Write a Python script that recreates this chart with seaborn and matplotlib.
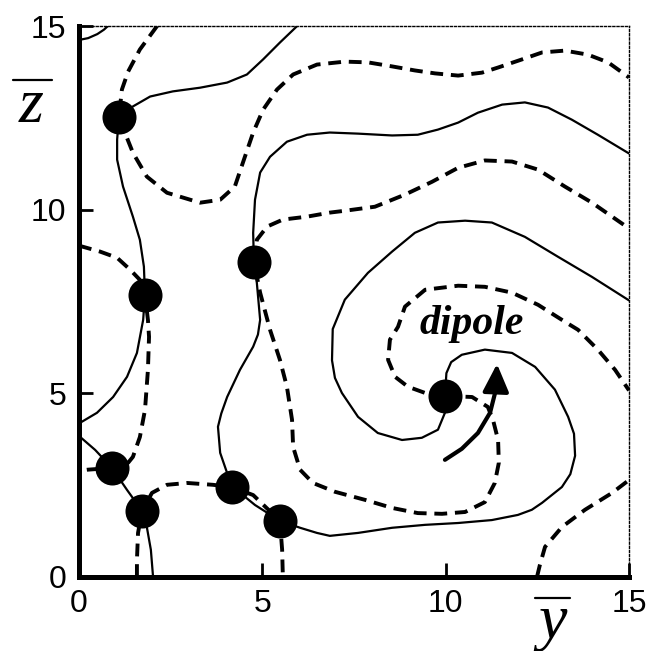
import matplotlib
matplotlib.use("Agg")
import matplotlib.pyplot as plt
from matplotlib.lines import Line2D
import seaborn as sns

# ---- zero-contour curves in the (y, z) plane ----
# solid curves
s_corner_y = [0.0, 0.25, 0.50, 0.68, 0.79]
s_corner_z = [14.62, 14.67, 14.78, 14.90, 15.0]

s_top_y = [1.09, 1.47, 1.94, 2.56, 3.30, 4.04, 4.58, 5.02, 5.48, 5.94]
s_top_z = [12.53, 12.81, 13.08, 13.22, 13.32, 13.46, 13.68, 14.09, 14.55, 14.99]

s_left_y = [1.09, 1.04, 1.04, 1.20, 1.47, 1.66, 1.77, 1.80, 1.75, 1.58, 1.31, 0.93, 0.49, 0.0]
s_left_z = [12.53, 11.91, 11.36, 10.63, 9.81, 9.18, 8.45, 7.68, 7.00, 6.10, 5.45, 4.90, 4.47, 4.18]

s_low_y = [0.0, 0.44, 0.90, 1.31, 1.72, 1.85, 1.96, 2.02]
s_low_z = [3.84, 3.46, 2.97, 2.37, 1.80, 1.36, 0.74, 0.0]

s_upper_y = [4.77, 4.75, 4.80, 4.94, 5.21, 5.67, 6.22, 6.84, 7.61, 8.54, 9.24, 9.79,
             10.34, 10.88, 11.54, 12.16, 12.79, 13.44, 14.15, 15.0]
s_upper_z = [8.58, 9.37, 10.27, 11.01, 11.44, 11.85, 12.04, 12.10, 12.07, 12.02, 12.04, 12.18,
             12.37, 12.64, 12.86, 12.92, 12.78, 12.45, 12.04, 11.53]

s_curl_y = [4.77, 4.85, 4.94, 4.88, 4.75, 4.39, 4.04, 3.88, 3.79, 3.85, 4.04, 4.20, 4.80, 5.48,
            6.03, 6.49, 6.84, 7.61, 8.54, 9.44, 10.34, 11.26, 11.97, 12.35, 12.63, 13.17, 13.40,
            13.53, 13.50, 13.34, 12.98, 12.44, 11.81, 11.07, 10.44, 10.15, 10.02, 9.98]
s_curl_z = [8.58, 8.01, 7.00, 6.60, 6.27, 5.64, 4.90, 4.45, 4.09, 3.38, 2.83, 2.45, 1.96, 1.53,
            1.34, 1.20, 1.12, 1.20, 1.34, 1.42, 1.47, 1.55, 1.69, 1.83, 2.02, 2.45, 2.80,
            3.30, 3.90, 4.36, 5.10, 5.72, 6.10, 6.19, 6.05, 5.85, 5.55, 4.93]

s_spiral_y = [9.98, 9.98, 9.79, 9.35, 8.81, 8.15, 7.61, 7.17, 6.98, 6.90, 6.92, 7.25, 7.88, 8.54,
              9.16, 9.79, 10.53, 11.26, 12.16, 13.06, 13.99, 15.0]
s_spiral_z = [4.93, 4.47, 4.01, 3.79, 3.73, 3.92, 4.36, 5.01, 5.42, 5.90, 6.75, 7.55, 8.28, 8.86,
              9.37, 9.65, 9.70, 9.65, 9.26, 8.72, 8.17, 7.53]

# dashed curves
d_top_y = [2.13, 1.66, 1.34, 1.17, 1.09, 1.25, 1.47, 1.85, 2.40, 3.30, 3.85, 4.25, 4.47, 4.75,
           5.02, 5.40, 5.84, 6.49, 7.25, 7.88, 8.54, 9.16, 9.71, 10.34, 10.99, 11.43, 12.08,
           12.63, 13.25, 13.88, 14.43, 15.0]
d_top_z = [15.0, 14.36, 13.76, 13.27, 12.53, 12.10, 11.55, 10.90, 10.46, 10.19, 10.27, 10.63,
           11.28, 12.10, 12.72, 13.27, 13.68, 13.95, 14.03, 14.01, 13.90, 13.79, 13.71, 13.65,
           13.73, 13.87, 14.09, 14.28, 14.33, 14.22, 14.01, 13.60]

d_left_y = [0.0, 0.57, 1.04, 1.39, 1.66, 1.80, 1.88, 1.91, 1.88, 1.80, 1.66, 1.47, 1.34, 0.90, 0.22, 0.0]
d_left_z = [9.02, 8.86, 8.69, 8.37, 8.09, 7.68, 7.00, 6.54, 5.64, 4.55, 3.81, 3.27, 3.11, 2.97, 2.92, 2.89]

d_low_y = [1.58, 1.58, 1.61, 1.72, 1.99, 2.40, 2.95, 3.65, 4.17, 4.75, 5.48, 5.54, 5.56]
d_low_z = [0.0, 0.46, 1.20, 1.80, 2.29, 2.51, 2.56, 2.51, 2.45, 2.23, 1.53, 0.74, 0.0]

d_mid_y = [4.77, 4.85, 5.13, 5.56, 6.22, 6.84, 7.25, 8.07, 8.89, 9.63, 10.34, 11.07, 11.81,
           12.52, 13.25, 13.99, 15.0]
d_mid_z = [8.58, 9.18, 9.54, 9.73, 9.81, 9.92, 9.97, 10.08, 10.41, 10.76, 11.14, 11.34, 11.31,
           11.09, 10.63, 10.19, 9.49]

d_inner_y = [9.98, 9.44, 8.97, 8.62, 8.43, 8.48, 8.70, 8.89, 9.44, 10.34, 11.07, 11.81, 12.52,
             13.25, 13.61, 14.15, 14.62, 15.0]
d_inner_z = [4.93, 5.01, 5.18, 5.45, 5.91, 6.46, 6.81, 7.36, 7.82, 7.93, 7.90, 7.74, 7.41,
             6.95, 6.73, 6.19, 5.64, 5.08]

d_loop_y = [9.98, 10.72, 11.15, 11.29, 11.43, 11.45, 11.34, 11.07, 10.53, 9.90, 9.24, 8.54,
            7.80, 6.98, 6.38, 6.03, 5.84, 5.81, 5.67, 5.48, 5.21, 4.94, 4.77]
d_loop_z = [4.93, 4.90, 4.63, 4.28, 3.73, 3.11, 2.56, 2.04, 1.77, 1.72, 1.74, 1.88,
            2.10, 2.32, 2.56, 2.92, 3.54, 4.28, 5.18, 5.91, 6.73, 7.74, 8.58]

d_corner_y = [12.49, 12.57, 12.71, 13.17, 13.80, 14.54, 15.0]
d_corner_z = [0.0, 0.33, 0.82, 1.36, 1.83, 2.29, 2.64]

# singular points where the solid and dashed contours cross
pts_y = [1.09, 1.80, 4.77, 0.90, 1.72, 4.17, 5.48, 9.98]
pts_z = [12.53, 7.68, 8.58, 2.97, 1.80, 2.45, 1.53, 4.93]

# rotation arrow next to the dipole
arrow_y = [9.98, 10.44, 10.88, 11.21, 11.37]
arrow_z = [3.19, 3.49, 3.92, 4.47, 5.10]
arrow_tip = (11.40, 5.80)

ticks = [0, 5, 10, 15]

solid_curves = [(s_corner_y, s_corner_z), (s_top_y, s_top_z), (s_left_y, s_left_z),
                (s_low_y, s_low_z), (s_upper_y, s_upper_z), (s_curl_y, s_curl_z),
                (s_spiral_y, s_spiral_z)]
dashed_curves = [(d_top_y, d_top_z), (d_left_y, d_left_z), (d_low_y, d_low_z),
                 (d_mid_y, d_mid_z), (d_inner_y, d_inner_z), (d_loop_y, d_loop_z),
                 (d_corner_y, d_corner_z)]

sns.set_style("white")
plt.rcParams["font.family"] = ["Liberation Sans", "DejaVu Sans"]
plt.rcParams["text.color"] = "black"

fig = plt.figure(figsize=(6.55, 6.51), dpi=100)
ax = fig.add_axes([79 / 655, 1 - 577 / 651, 550 / 655, 551 / 651])

for cy, cz in solid_curves:
    sns.lineplot(x=cy, y=cz, sort=False, estimator=None, color="black",
                 linewidth=1.6, ax=ax, zorder=2)
for cy, cz in dashed_curves:
    sns.lineplot(x=cy, y=cz, sort=False, estimator=None, color="black",
                 linewidth=2.8, linestyle=(0, (3.3, 2.0)), ax=ax, zorder=2)

sns.scatterplot(x=pts_y, y=pts_z, s=600, color="black", linewidth=0, ax=ax, zorder=5)

# arrow: thick curved shaft plus a filled head
sns.lineplot(x=arrow_y, y=arrow_z, sort=False, estimator=None, color="black",
             linewidth=3.0, ax=ax, zorder=4)
ax.annotate("", xy=arrow_tip, xytext=(arrow_y[-1], arrow_z[-1]),
            arrowprops=dict(arrowstyle="-|>,head_length=1.7,head_width=0.8",
                            color="black", lw=3.0, shrinkA=0, shrinkB=0), zorder=4)

ax.text(10.72, 6.62, "dipole", ha="center", va="baseline", fontsize=30, color="black",
        family="Liberation Serif", style="italic", weight="bold", zorder=6)

ax.set_xlim(0, 15)
ax.set_ylim(0, 15)
ax.set_xticks(ticks)
ax.set_yticks(ticks)
ax.set_xticklabels([str(t) for t in ticks])
ax.set_yticklabels([str(t) for t in ticks])
ax.set_xlabel("")
ax.set_ylabel("")
ax.tick_params(direction="in", length=10, width=2, labelsize=23, pad=9,
               colors="black", bottom=True, left=True, top=False, right=False)

for side in ("left", "bottom"):
    ax.spines[side].set_linewidth(3.6)
    ax.spines[side].set_color("black")
for side in ("top", "right"):
    ax.spines[side].set_linewidth(1.0)
    ax.spines[side].set_linestyle((0, (1.5, 1.5)))
    ax.spines[side].set_color("black")
    ax.spines[side].set_visible(True)

# overlined axis symbols
W, H = 655, 651
fig.text(31 / W, 1 - 122 / H, "z", ha="center", va="baseline", fontsize=46, color="black",
         family="Liberation Serif", style="italic")
fig.add_artist(Line2D([13 / W, 52 / W], [1 - 80 / H, 1 - 80 / H], color="black",
                      lw=1.6, transform=fig.transFigure))
fig.text(553 / W, 1 - 638 / H, "y", ha="center", va="baseline", fontsize=46, color="black",
         family="Liberation Serif", style="italic")
fig.add_artist(Line2D([535 / W, 570 / W], [1 - 598 / H, 1 - 598 / H], color="black",
                      lw=1.6, transform=fig.transFigure))

fig.savefig("out.png", dpi=100)
